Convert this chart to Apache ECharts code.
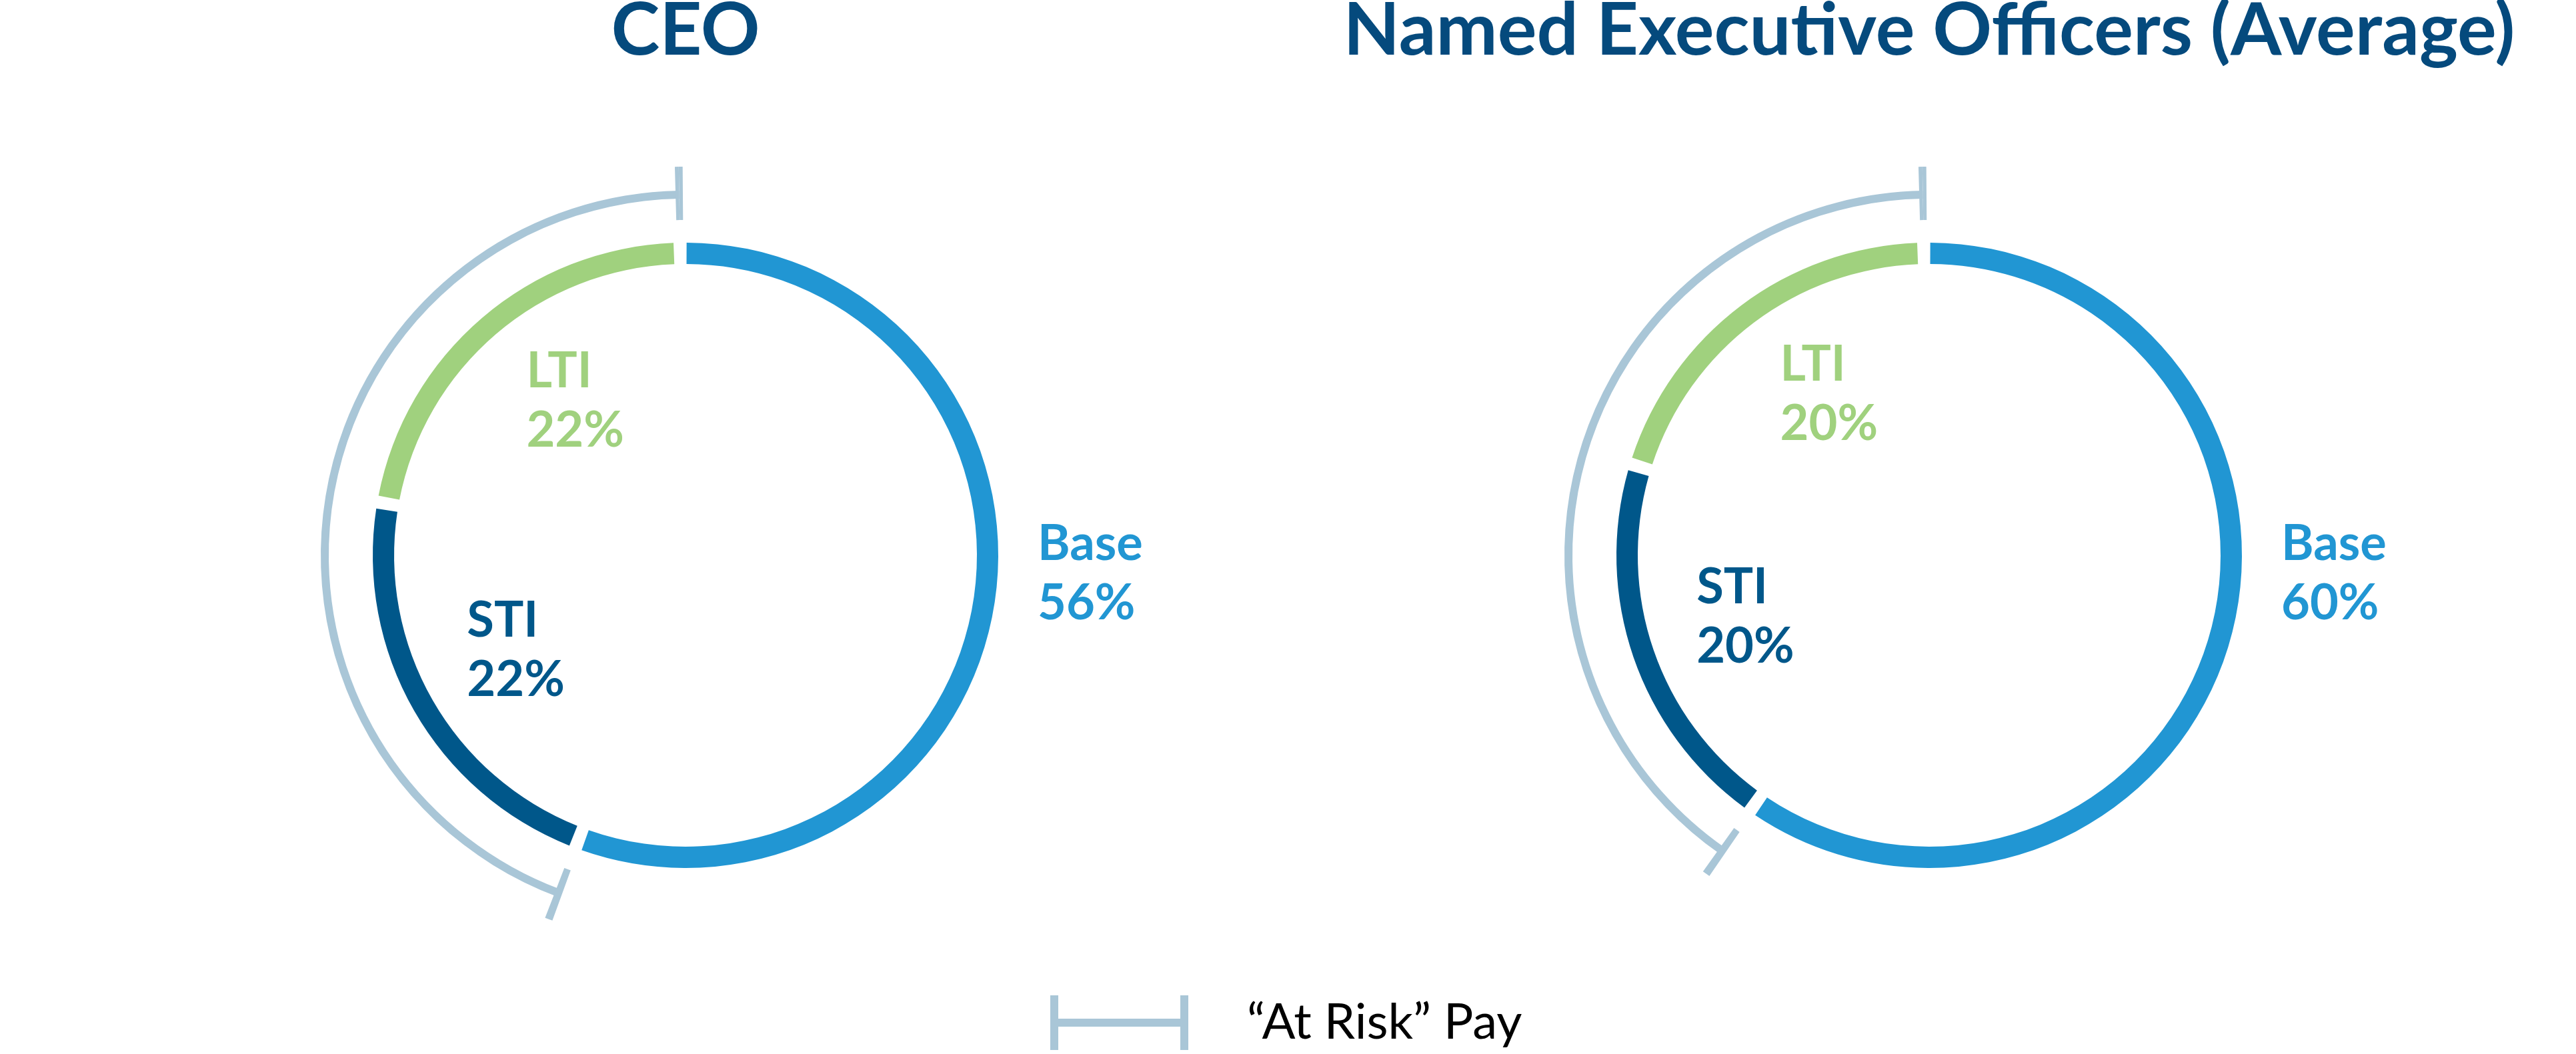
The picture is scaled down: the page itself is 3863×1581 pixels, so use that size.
<!DOCTYPE html>
<html>
<head>
<meta charset="utf-8">
<title>Pay mix</title>
<script src="https://cdn.jsdelivr.net/npm/echarts@6/dist/echarts.min.js"></script>
<style>
html, body { margin: 0; padding: 0; background: #fff; }
#chart { width: 3863px; height: 1581px; }
</style>
</head>
<body>
<div id="chart"></div>
<script>
// pay mix, share of total target pay (%)
var components = ['Base', 'STI', 'LTI'];
var ceoMix = [56, 22, 22];
var neoMix = [60, 20, 20];
var chartTitles = ['CEO', 'Named Executive Officers (Average)'];
var atRiskLabel = '“At Risk” Pay';
var atRiskParts = ['STI', 'LTI'];

// styles / layout
var colors = { Base: '#2196d3', STI: '#00578a', LTI: '#a0d17e' };
var bracketColor = '#a9c6d7';
var titleColor = '#054a7d';
var font = 'Lato';
var centers = [[1028, 833], [2893, 833]];
var START = 91;
var RING = [437, 469];
var BRACKET = [535, 547];
var TICK = [503, 583];
var TICK_SHARE = 0.32;      // width of the bracket ends, % of the circle
var LABEL_R = 289;
var LABEL_DY = 6;
var labelNudge = { LTI: -5.7, STI: -1.5 };
var BASE_DX = 528, BASE_DY = 28;

var mixes = [ceoMix, neoMix];

function total(mix) {
  return mix.reduce(function (a, b) { return a + b; }, 0);
}

function midAngle(mix, idx) {
  var before = 0;
  for (var i = 0; i < idx; i++) before += mix[i];
  return START - (before + mix[idx] / 2) / total(mix) * 360;
}

function atRiskShare(mix) {
  var s = 0;
  components.forEach(function (c, i) {
    if (atRiskParts.indexOf(c) >= 0) s += mix[i];
  });
  return s / total(mix) * 100;
}

var series = [];
mixes.forEach(function (mix, k) {
  var c = centers[k];
  var risk = atRiskShare(mix);
  var fixed = 100 - risk;

  // main ring
  series.push({
    type: 'pie',
    center: c,
    radius: RING,
    startAngle: START,
    clockwise: true,
    padAngle: 2.4,
    silent: true,
    animation: false,
    itemStyle: { borderWidth: 0 },
    label: {
      show: true,
      position: 'inside',
      fontFamily: font,
      fontWeight: 'bold',
      fontSize: 74,
      lineHeight: 89,
      formatter: function (p) { return p.name + '\n' + p.value + '%'; }
    },
    labelLine: { show: false },
    labelLayout: function (p) {
      var name = components[p.dataIndex];
      if (name === 'Base') {
        return { x: c[0] + BASE_DX, y: c[1] + BASE_DY, align: 'left', verticalAlign: 'middle' };
      }
      var a = (midAngle(mix, p.dataIndex) + labelNudge[name]) * Math.PI / 180;
      return {
        x: c[0] + LABEL_R * Math.cos(a) - p.labelRect.width / 2,
        y: c[1] - LABEL_R * Math.sin(a) + LABEL_DY,
        align: 'left',
        verticalAlign: 'middle'
      };
    },
    data: components.map(function (name, i) {
      return {
        name: name,
        value: mix[i],
        itemStyle: { color: colors[name] },
        label: { color: colors[name] }
      };
    })
  });

  // "at risk" bracket arc
  series.push({
    type: 'pie',
    center: c,
    radius: BRACKET,
    startAngle: START,
    clockwise: true,
    silent: true,
    animation: false,
    label: { show: false },
    labelLine: { show: false },
    itemStyle: { borderWidth: 0 },
    data: [
      { name: 'fixed', value: fixed, itemStyle: { color: 'transparent' } },
      { name: atRiskLabel, value: risk, itemStyle: { color: bracketColor } }
    ]
  });

  // bracket end ticks
  series.push({
    type: 'pie',
    center: c,
    radius: TICK,
    startAngle: START,
    clockwise: true,
    silent: true,
    animation: false,
    label: { show: false },
    labelLine: { show: false },
    itemStyle: { borderWidth: 0 },
    data: [
      { name: 't1', value: TICK_SHARE / 2, itemStyle: { color: bracketColor } },
      { name: 'g1', value: fixed - TICK_SHARE, itemStyle: { color: 'transparent' } },
      { name: 't2', value: TICK_SHARE, itemStyle: { color: bracketColor } },
      { name: 'g2', value: risk - TICK_SHARE, itemStyle: { color: 'transparent' } },
      { name: 't3', value: TICK_SHARE / 2, itemStyle: { color: bracketColor } }
    ]
  });
});

var chart = echarts.init(document.getElementById('chart'));
chart.setOption({
  backgroundColor: '#fff',
  animation: false,
  graphic: chartTitles.map(function (t, k) {
    return {
      type: 'text',
      x: centers[k][0],
      y: 47,
      silent: true,
      style: {
        text: t,
        align: 'center',
        verticalAlign: 'middle',
        fill: titleColor,
        fontFamily: font,
        fontWeight: 'bold',
        fontSize: 110
      }
    };
  }),
  legend: {
    left: 1575,
    top: 1493,
    padding: 0,
    selectedMode: false,
    itemWidth: 207,
    itemHeight: 82,
    itemStyle: { borderWidth: 0 },
    data: [{ name: atRiskLabel, icon: 'path://M0,0H12V35H195V0H207V82H195V47H12V82H0Z' }],
    textStyle: {
      fontFamily: font,
      fontWeight: 400,
      fontSize: 74,
      color: '#000',
      padding: [0, 0, 0, 83]
    }
  },
  series: series
});
</script>
</body>
</html>
